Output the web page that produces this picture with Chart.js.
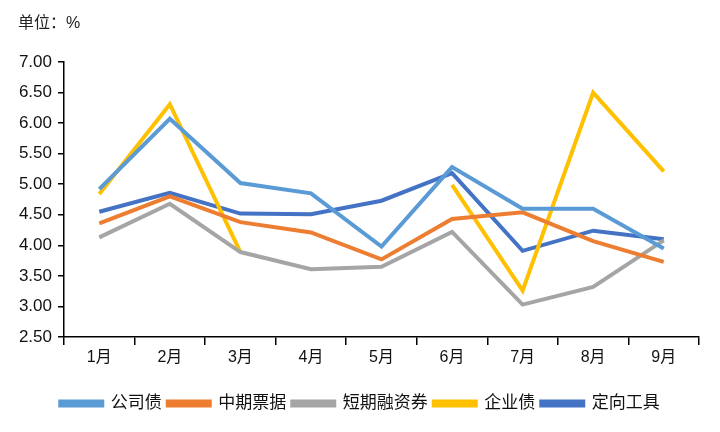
<!DOCTYPE html>
<html>
<head>
<meta charset="utf-8">
<script src="https://cdn.jsdelivr.net/npm/chart.js@4"></script>
<style>
  body { margin: 0; background: #fff; }
  #wrap { width: 720px; height: 432px; }
</style>
</head>
<body>
<div id="wrap"><canvas id="grafica" width="720" height="432"></canvas></div>
<script>
const months = ['1月', '2月', '3月', '4月', '5月', '6月', '7月', '8月', '9月'];
const gongsizhai = [4.92, 6.07, 5.02, 4.85, 3.98, 5.28, 4.60, 4.60, 3.95];
const zhongqi = [4.36, 4.80, 4.38, 4.21, 3.77, 4.43, 4.54, 4.07, 3.73];
const duanrong = [4.13, 4.68, 3.89, 3.61, 3.65, 4.22, 3.03, 3.32, 4.08];
const qiyezhai = [4.84, 6.31, 3.89, null, null, 4.99, 3.26, 6.50, 5.21];
const dingxiang = [4.55, 4.86, 4.52, 4.51, 4.73, 5.18, 3.91, 4.24, 4.10];
const unitText = '单位：%';

const font = "'Liberation Sans', 'Noto Sans CJK SC', sans-serif";

function line(label, data, color) {
  return {
    label: label,
    data: data,
    borderColor: color,
    backgroundColor: color,
    borderWidth: 4,
    pointRadius: 0,
    tension: 0,
    spanGaps: false
  };
}

// texto de unidades arriba a la izquierda
const unidad = {
  id: 'unidad',
  afterDraw(chart) {
    const c = chart.ctx;
    c.save();
    c.font = "16px " + font;
    c.fillStyle = '#222';
    c.textBaseline = 'middle';
    c.fillText(unitText, 18, 24);
    c.restore();
  }
};

const ctx = document.getElementById('grafica');
new Chart(ctx, {
  type: 'line',
  data: {
    labels: months,
    datasets: [
      line('公司债', gongsizhai, '#5B9BD5'),
      line('中期票据', zhongqi, '#ED7D31'),
      line('短期融资券', duanrong, '#A5A5A5'),
      line('企业债', qiyezhai, '#FFC000'),
      line('定向工具', dingxiang, '#4472C4')
    ]
  },
  options: {
    responsive: false,
    animation: false,
    layout: { padding: { left: 10.5, right: 10.5, top: 62, bottom: 10 } },
    plugins: {
      tooltip: { enabled: false },
      legend: {
        position: 'bottom',
        labels: {
          boxWidth: 42,
          boxHeight: 4,
          padding: 6,
          color: '#111',
          font: { family: font, size: 17 }
        }
      }
    },
    scales: {
      x: {
        offset: true,
        grid: {
          offset: true,
          drawOnChartArea: false,
          drawTicks: true,
          tickLength: 8,
          color: '#000',
          lineWidth: 1.5
        },
        border: { color: '#000', width: 1.5 },
        ticks: { color: '#111', padding: 3, font: { family: font, size: 16 } },
        afterFit(scale) { scale.height = 52; }
      },
      y: {
        min: 2.5,
        max: 7,
        grid: {
          drawOnChartArea: false,
          drawTicks: true,
          tickLength: 6,
          color: '#000',
          lineWidth: 1.5
        },
        border: { color: '#000', width: 1.5 },
        ticks: {
          stepSize: 0.5,
          padding: 6,
          color: '#111',
          font: { family: font, size: 17 },
          callback: v => v.toFixed(2)
        },
        afterFit(scale) { scale.width = 53.5; }
      },
      // margen derecho vacio
      y2: {
        position: 'right',
        grid: { display: false },
        border: { display: false },
        ticks: { display: false },
        afterFit(scale) { scale.width = 10.5; }
      }
    }
  },
  plugins: [unidad]
});
</script>
</body>
</html>
